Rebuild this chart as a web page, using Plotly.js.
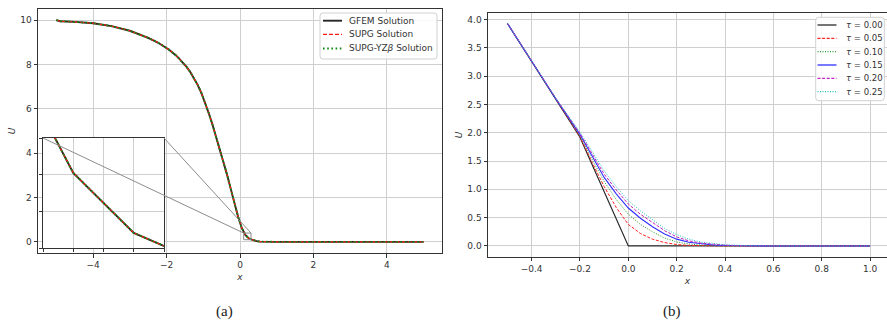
<!DOCTYPE html>
<html>
<head>
<meta charset="utf-8">
<script src="https://cdn.plot.ly/plotly-3.0.1.min.js"></script>
<style>
  html, body { margin: 0; padding: 0; background: #fff; }
  #chart { width: 887px; height: 321px; }
</style>
</head>
<body>
<div id="chart"></div>
<script>
// ---------- (a) steady profile: nodes and the three discrete solutions ----------
const xA = [-5, -4.9, -4.5, -4, -3.5, -3, -2.5, -2.25, -1.95, -1.85,
            -1.75, -1.65, -1.55, -1.45, -1.35, -1.25, -1.15, -1.05, -0.95, -0.85,
            -0.75, -0.65, -0.55, -0.45, -0.35, -0.25, -0.15, -0.05, 0.05, 0.15,
            0.25, 0.35, 0.45, 0.55, 0.65, 0.75, 1, 2, 3, 4, 5];
const uGfem = [10, 9.95, 9.92, 9.86, 9.73, 9.52, 9.2, 9.0, 8.69, 8.56,
               8.42, 8.25, 8.07, 7.88, 7.65, 7.38, 7.07, 6.71, 6.28, 5.8,
               5.29, 4.74, 4.18, 3.61, 3.02, 2.38, 1.74, 1.12, 0.62, 0.305,
               0.141, 0.07, 0.035, 0.015, 0.005, 0, 0, 0, 0, 0, 0];
const uSupg = [10, 9.95, 9.92, 9.86, 9.73, 9.52, 9.2, 9.0, 8.69, 8.56,
               8.42, 8.25, 8.07, 7.88, 7.65, 7.38, 7.07, 6.71, 6.28, 5.8,
               5.29, 4.74, 4.18, 3.61, 3.02, 2.38, 1.74, 1.12, 0.62, 0.305,
               0.141, 0.07, 0.035, 0.015, 0.005, 0, 0, 0, 0, 0, 0];
const uSupgYZb = [10, 9.95, 9.92, 9.86, 9.73, 9.52, 9.2, 9.0, 8.69, 8.56,
                  8.42, 8.25, 8.07, 7.88, 7.65, 7.38, 7.07, 6.71, 6.28, 5.8,
                  5.29, 4.74, 4.18, 3.61, 3.02, 2.38, 1.74, 1.12, 0.62, 0.305,
                  0.141, 0.07, 0.035, 0.015, 0.005, 0, 0, 0, 0, 0, 0];
const namesA = ['GFEM Solution', 'SUPG Solution', 'SUPG-YZ<i>β</i> Solution'];
const ticksAx = [-4, -2, 0, 2, 4];
const ticksAy = [0, 2, 4, 6, 8, 10];
// zoomed window shown in the inset
const insetX = [0.1, 0.3];
const insetY = [0.1, 0.4];

// ---------- (b) profiles for increasing tau ----------
const xB = [-0.5, -0.4, -0.3, -0.2, -0.15, -0.1, -0.05, 0, 0.05, 0.1,
            0.15, 0.2, 0.25, 0.3, 0.35, 0.4, 0.5, 0.6, 0.8, 1.0];
const tau000 = [3.93, 3.26, 2.59, 1.92, 1.44, 0.96, 0.48, 0, 0, 0,
                0, 0, 0, 0, 0, 0, 0, 0, 0, 0];
const tau005 = [3.93, 3.26, 2.59, 1.93, 1.48, 1.05, 0.68, 0.38, 0.22, 0.12,
                0.06, 0.025, 0.01, 0.003, 0, 0, 0, 0, 0, 0];
const tau010 = [3.93, 3.26, 2.6, 1.95, 1.53, 1.14, 0.82, 0.56, 0.38, 0.25,
                0.14, 0.07, 0.035, 0.015, 0.006, 0.002, 0, 0, 0, 0];
const tau015 = [3.93, 3.26, 2.6, 1.97, 1.58, 1.21, 0.92, 0.67, 0.49, 0.34,
                0.21, 0.12, 0.065, 0.035, 0.018, 0.008, 0.002, 0, 0, 0];
const tau020 = [3.93, 3.26, 2.61, 1.99, 1.62, 1.27, 0.99, 0.74, 0.56, 0.41,
                0.27, 0.16, 0.09, 0.05, 0.027, 0.013, 0.003, 0, 0, 0];
const tau025 = [3.93, 3.26, 2.61, 2.01, 1.66, 1.33, 1.05, 0.80, 0.62, 0.46,
                0.31, 0.2, 0.12, 0.07, 0.04, 0.02, 0.005, 0.001, 0, 0];
const tauLabels = ['0.00', '0.05', '0.10', '0.15', '0.20', '0.25'];
const ticksBx = [-0.4, -0.2, 0, 0.2, 0.4, 0.6, 0.8, 1.0];
const ticksBy = [0, 0.5, 1, 1.5, 2, 2.5, 3, 3.5, 4];

// ---------- page geometry (pixels) ----------
const W = 887, H = 321;
const fx = px => px / W;
const fy = py => 1 - py / H;

const FONT = 'DejaVu Sans, Arial, sans-serif';
const INK = '#333333';

const stylesA = [
  { color: '#262626', width: 1.9, dash: 'solid' },
  { color: '#ff1a1a', width: 1.2, dash: '4px,2px' },
  { color: '#138a13', width: 1.9, dash: '1.6px,2.6px' }
];
const stylesB = [
  { color: '#2b2b2b', width: 1.2, dash: 'solid' },
  { color: '#ff2020', width: 1.0, dash: '3px,1.6px' },
  { color: '#2e9a2e', width: 1.0, dash: '1px,1.5px' },
  { color: '#3030ff', width: 1.1, dash: 'solid' },
  { color: '#c020c0', width: 1.0, dash: '3px,1.6px' },
  { color: '#20c0c0', width: 1.0, dash: '1px,1.5px' }
];

const seriesA = [uGfem, uSupg, uSupgYZb];
const seriesB = [tau000, tau005, tau010, tau015, tau020, tau025];

const traces = [];
// main curves of (a), and the same curves again in the inset axes
['x', 'x3'].forEach((xa, k) => {
  seriesA.forEach((u, i) => {
    traces.push({
      type: 'scatter', mode: 'lines', x: xA, y: u,
      xaxis: xa, yaxis: k === 0 ? 'y' : 'y3',
      name: namesA[i], showlegend: false, hoverinfo: 'skip',
      line: stylesA[i]
    });
  });
});
seriesB.forEach((u, i) => {
  traces.push({
    type: 'scatter', mode: 'lines', x: xB, y: u,
    xaxis: 'x2', yaxis: 'y2',
    name: 'τ = ' + tauLabels[i], showlegend: false, hoverinfo: 'skip',
    line: stylesB[i]
  });
});

const axisBase = {
  showline: true, mirror: true, linecolor: INK, linewidth: 1,
  ticks: 'outside', ticklen: 3.5, tickwidth: 1, tickcolor: INK,
  showgrid: true, gridcolor: '#cfcfcf', gridwidth: 1,
  zeroline: false, tickmode: 'array',
  tickfont: { family: FONT, size: 9, color: INK }
};
const titleFont = { family: FONT, size: 9, color: INK };

const layout = {
  width: W, height: H,
  margin: { l: 0, r: 0, t: 0, b: 0 },
  paper_bgcolor: '#ffffff', plot_bgcolor: '#ffffff',
  showlegend: false,
  xaxis: Object.assign({}, axisBase, {
    domain: [fx(38), fx(442)], range: [-5.5, 5.5], anchor: 'y',
    tickvals: ticksAx, ticktext: ticksAx.map(v => String(v).replace('-', '−')),
    title: { text: '<i>x</i>', font: titleFont, standoff: 4 }
  }),
  yaxis: Object.assign({}, axisBase, {
    domain: [fy(253), fy(9)], range: [-0.5, 10.5], anchor: 'x',
    tickvals: ticksAy, ticktext: ticksAy.map(String),
    title: { text: '<i>U</i>', font: titleFont, standoff: 3 }
  }),
  xaxis2: Object.assign({}, axisBase, {
    domain: [fx(488), 1], range: [-0.5804, 1.07], anchor: 'y2',
    tickvals: ticksBx, ticktext: ticksBx.map(v => v.toFixed(1).replace('-', '−')),
    title: { text: '<i>x</i>', font: titleFont, standoff: 4 }
  }),
  yaxis2: Object.assign({}, axisBase, {
    domain: [fy(256.7), fy(13.3)], range: [-0.19, 4.11], anchor: 'x2',
    tickvals: ticksBy, ticktext: ticksBy.map(v => v.toFixed(1)),
    title: { text: '<i>U</i>', font: titleFont, standoff: 3 }
  }),
  xaxis3: Object.assign({}, axisBase, {
    domain: [fx(43), fx(164)], range: insetX, anchor: 'y3',
    tickvals: [0.1, 0.15, 0.2, 0.25, 0.3], showticklabels: false, ticklen: 3
  }),
  yaxis3: Object.assign({}, axisBase, {
    domain: [fy(248), fy(138)], range: insetY, anchor: 'x3',
    tickvals: [0.1, 0.2, 0.3, 0.4], showticklabels: false, ticklen: 3
  }),
  shapes: [],
  annotations: []
};

// ---- zoom box and the two connector lines of the inset ----
const toMainX = p => {
  const d = layout.xaxis.domain, r = layout.xaxis.range;
  return r[0] + (p - d[0]) / (d[1] - d[0]) * (r[1] - r[0]);
};
const toMainY = p => {
  const d = layout.yaxis.domain, r = layout.yaxis.range;
  return r[0] + (p - d[0]) / (d[1] - d[0]) * (r[1] - r[0]);
};
const insetEdge = '#8c8c8c';
layout.shapes.push({
  type: 'rect', xref: 'x', yref: 'y', layer: 'above',
  x0: insetX[0], x1: insetX[1], y0: insetY[0], y1: insetY[1],
  line: { color: insetEdge, width: 1 }
});
const cornerTopY = toMainY(layout.yaxis3.domain[1]);
[[layout.xaxis3.domain[0], insetX[0]], [layout.xaxis3.domain[1], insetX[1]]].forEach(([pd, xr]) => {
  layout.shapes.push({
    type: 'line', xref: 'x', yref: 'y', layer: 'above',
    x0: toMainX(pd), y0: cornerTopY, x1: xr, y1: insetY[1],
    line: { color: insetEdge, width: 1 }
  });
});

// ---- legend boxes drawn as rounded frames, sample strokes and labels ----
function roundedBox(x0, y0, x1, y1, r) {
  const L = fx(x0), R = fx(x1), T = fy(y0), B = fy(y1);
  const rx = r / W, ry = r / H;
  return `M${L + rx},${T} L${R - rx},${T} Q${R},${T} ${R},${T - ry} ` +
         `L${R},${B + ry} Q${R},${B} ${R - rx},${B} L${L + rx},${B} ` +
         `Q${L},${B} ${L},${B + ry} L${L},${T - ry} Q${L},${T} ${L + rx},${T} Z`;
}
function addLegend(box, rows, sample, textX, labels, styles, fontSize) {
  layout.shapes.push({
    type: 'path', xref: 'paper', yref: 'paper', layer: 'above',
    path: roundedBox(box[0], box[1], box[2], box[3], 3),
    fillcolor: 'rgba(255,255,255,0.85)', line: { color: '#d0d0d0', width: 1 }
  });
  labels.forEach((lab, i) => {
    const s = styles[i];
    layout.shapes.push({
      type: 'line', xref: 'paper', yref: 'paper', layer: 'above',
      x0: fx(sample[0]), x1: fx(sample[1]), y0: fy(rows[i]), y1: fy(rows[i]),
      line: { color: s.color, width: Math.max(s.width, 1.3), dash: s.dash }
    });
    layout.annotations.push({
      xref: 'paper', yref: 'paper', x: fx(textX), y: fy(rows[i]),
      xanchor: 'left', yanchor: 'middle', showarrow: false, text: lab,
      font: { family: FONT, size: fontSize, color: INK }
    });
  });
}
addLegend([320, 13, 437, 59], [20.7, 34.3, 48.5], [323, 342], 347, namesA, stylesA, 9);
addLegend([815.7, 17.3, 884.3, 100.7], [25, 38.3, 51.7, 65, 78.3, 91.7], [817.5, 836.5], 844,
          tauLabels.map(t => '<i>τ</i> = ' + t), stylesB, 8.5);

// ---- panel captions ----
[['(a)', 224], ['(b)', 672]].forEach(([t, px]) => {
  layout.annotations.push({
    xref: 'paper', yref: 'paper', x: fx(px), y: fy(311),
    xanchor: 'center', yanchor: 'middle', showarrow: false, text: t,
    font: { family: 'Liberation Serif, DejaVu Serif, serif', size: 15, color: '#222' }
  });
});

Plotly.newPlot('chart', traces, layout, { staticPlot: true, displayModeBar: false });
</script>
</body>
</html>
